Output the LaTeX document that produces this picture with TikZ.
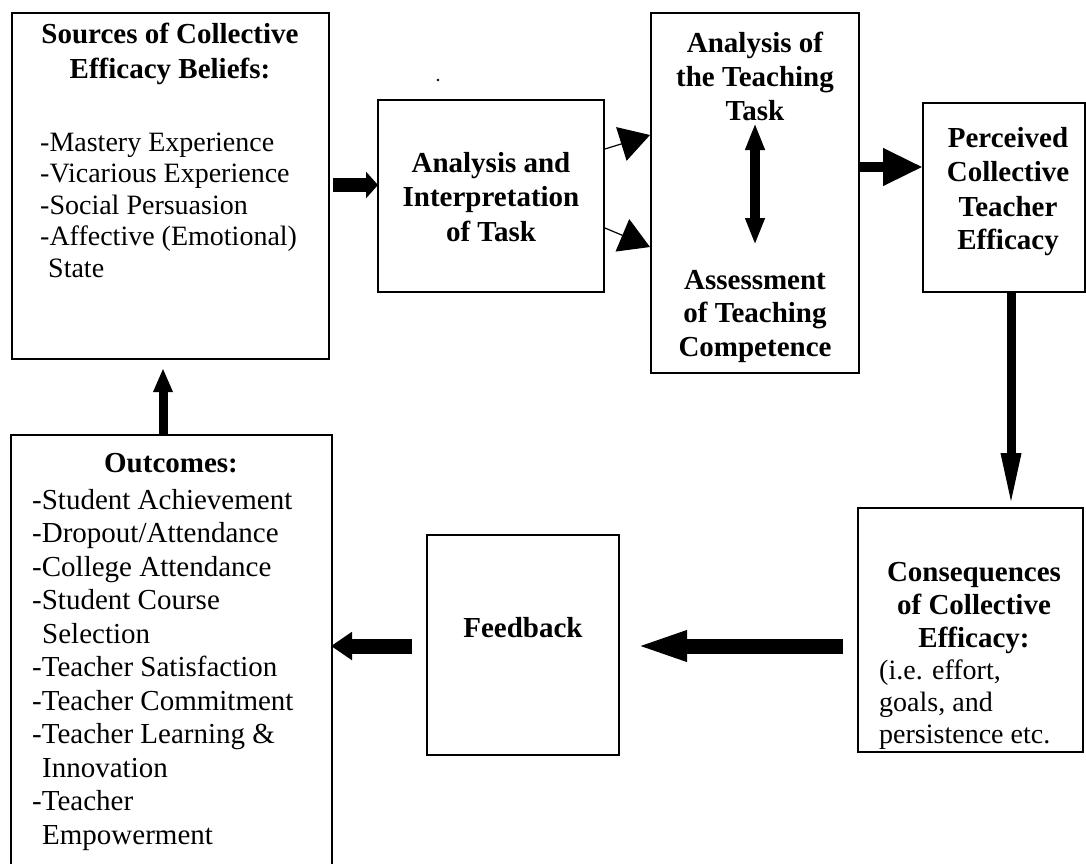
\documentclass[tikz,border=0pt]{standalone}
\usepackage{fontspec}
\setmainfont{Liberation Serif}
\usetikzlibrary{arrows.meta,calc}
\tikzset{
  box/.style={draw, line width=1.6pt, anchor=north west, inner sep=0pt, outer sep=0pt},
  hd/.style={font=\bfseries\fontsize{29}{34}\selectfont, anchor=base, inner sep=0pt},
  tx/.style={font=\fontsize{28}{32}\selectfont, anchor=base west, inner sep=0pt},
  txl/.style={font=\fontsize{29}{33}\selectfont, anchor=base west, inner sep=0pt},
  dotmark/.style={circle, fill, inner sep=0pt, minimum size=2.6pt},
  thinarrow/.style={line width=1.2pt, -{Triangle[width=35pt,length=30pt]}},
  fatarrow/.style n args={3}{line width=#1, -{Triangle[width=#2,length=#3]}},
  dblarrow/.style={line width=10pt, {Triangle[width=18pt,length=27pt]}-{Triangle[width=18pt,length=27pt]}}
}
\begin{document}
\begin{tikzpicture}[x=1pt,y=-1pt]
\useasboundingbox (0,0) rectangle (1086,863);
\fill[white] (0,0) rectangle (1086,863);

% boxes
\node[box, minimum width=317pt, minimum height=346pt] (b1) at (12,13) {};
\node[box, minimum width=226pt, minimum height=192pt] (b2) at (378,100) {};
\node[box, minimum width=208pt, minimum height=360pt] (b3) at (651,13) {};
\node[box, minimum width=162pt, minimum height=189pt] (b4) at (923,103) {};
\node[box, minimum width=225pt, minimum height=244pt] (b5) at (858,508) {};
\node[box, minimum width=192pt, minimum height=220pt] (fb) at (427,535) {};
\node[box, minimum width=321pt, minimum height=460pt] (oc) at (11,435) {};

% box 1 text
\node[hd] (t1a) at (170,43) {Sources of Collective};
\node[hd] (t1b) at (170,78) {Efficacy Beliefs:};
\node[tx] (t1c) at (40,151) {-Mastery Experience};
\node[tx] (t1d) at (40,182.5) {-Vicarious Experience};
\node[tx] (t1e) at (40,214) {-Social Persuasion};
\node[tx] (t1f) at (40,245.5) {-Affective (Emotional)};
\node[tx] (t1g) at (48,277) {State};

% dot
\node[dotmark] (dot1) at (438,80) {};

% box 2 text
\node[hd] (t2a) at (491,172) {Analysis and};
\node[hd] (t2b) at (491,206.5) {Interpretation};
\node[hd] (t2c) at (491,241) {of Task};

% box 3 text
\node[hd] (t3a) at (755,52) {Analysis of};
\node[hd] (t3b) at (755,86) {the Teaching};
\node[hd] (t3c) at (755,120) {Task};
\node[hd] (t3d) at (755,289) {Assessment};
\node[hd] (t3e) at (755,322) {of Teaching};
\node[hd] (t3f) at (755,356) {Competence};

% box 4 text
\node[hd] (t4a) at (1008,147) {Perceived};
\node[hd] (t4b) at (1008,181) {Collective};
\node[hd] (t4c) at (1008,216) {Teacher};
\node[hd] (t4d) at (1008,249) {Efficacy};

% box 5 text
\node[hd] (t5a) at (974,581) {Consequences};
\node[hd] (t5b) at (974,614) {of Collective};
\node[hd] (t5c) at (974,647) {Efficacy:};
\node[tx] (t5d) at (879,679) {(i.e. effort,};
\node[tx] (t5e) at (879,711) {goals, and};
\node[tx] (t5f) at (879,743) {persistence etc.};

% feedback
\node[hd] (t6) at (523,637) {Feedback};

% outcomes
\node[hd] (t7a) at (171,472) {Outcomes:};
\node[txl] (t7b) at (32,509) {-Student Achievement};
\node[txl] (t7c) at (32,542.5) {-Dropout/Attendance};
\node[txl] (t7d) at (32,576) {-College Attendance};
\node[txl] (t7e) at (32,609.5) {-Student Course};
\node[txl] (t7f) at (42,643) {Selection};
\node[txl] (t7g) at (32,676.5) {-Teacher Satisfaction};
\node[txl] (t7h) at (32,710) {-Teacher Commitment};
\node[txl] (t7i) at (32,743.5) {-Teacher Learning \&};
\node[txl] (t7j) at (42,777) {Innovation};
\node[txl] (t7k) at (32,810.5) {-Teacher};
\node[txl] (t7l) at (42,844) {Empowerment};

% connectors
\draw[fatarrow={14pt}{26pt}{12pt}] ($(b1.north east)+(4,172)$) -- ($(b2.north west)+(0,85)$);
\draw[thinarrow] ($(b2.north east)+(1,49)$) -- ($(b3.north west)+(-1,122)$);
\draw[thinarrow] ($(b2.north east)+(1,128)$) -- ($(b3.north west)+(-1,234)$);
\draw[dblarrow] ($(b3.north)+(0,110)$) -- ($(b3.north)+(0,232)$);
\draw[fatarrow={10pt}{35pt}{40pt}] ($(b3.north east)+(0,154)$) -- ($(b4.north west)+(0,64)$);
\draw[fatarrow={9pt}{18pt}{55pt}] ($(b4.south east)+(-74,0)$) -- ($(b5.north east)+(-72,0)$);
\draw[fatarrow={15pt}{27pt}{53pt}] ($(b5.north west)+(-15,138)$) -- ($(fb.north east)+(15,111)$);
\draw[fatarrow={15pt}{27pt}{21pt}] ($(fb.north west)+(-15,111)$) -- ($(oc.north east)+(-1,211)$);
\draw[fatarrow={9pt}{18pt}{24pt}] ($(oc.north west)+(152,0)$) -- ($(b1.south west)+(151,9)$);
\end{tikzpicture}
\end{document}
